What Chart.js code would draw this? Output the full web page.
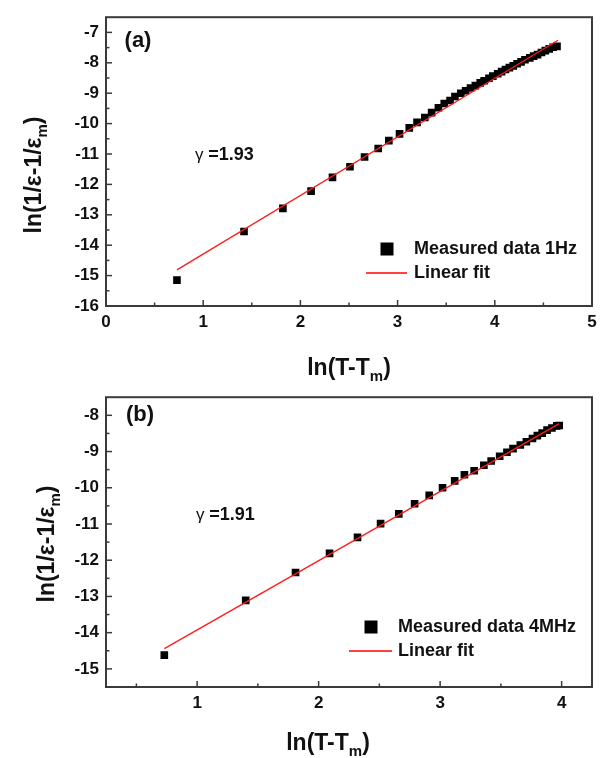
<!DOCTYPE html>
<html>
<head>
<meta charset="utf-8">
<script src="https://cdn.jsdelivr.net/npm/chart.js@4.4.0/dist/chart.umd.min.js"></script>
<style>
  body { margin: 0; background: #fff; }
  #wrap { position: relative; width: 605px; height: 758px; }
  canvas { position: absolute; left: 0; }
</style>
</head>
<body>
<div id="wrap">
  <canvas id="chartA" width="605" height="390" style="top:0px"></canvas>
  <canvas id="chartB" width="605" height="378" style="top:380px"></canvas>
</div>
<script>
// ln(T-Tm) vs ln(1/eps - 1/eps_m), 1 Hz
const lnDeltaT_1Hz = [0.73, 1.42, 1.82, 2.11, 2.33, 2.51, 2.66, 2.80, 2.91, 3.02,
  3.12, 3.20, 3.28, 3.35, 3.42, 3.48, 3.54, 3.59, 3.65, 3.70,
  3.75, 3.80, 3.85, 3.89, 3.94, 3.98, 4.03, 4.07, 4.11, 4.15,
  4.19, 4.23, 4.27, 4.31, 4.36, 4.40, 4.44, 4.48, 4.52, 4.56,
  4.60, 4.64];
const lnEps_1Hz = [-15.15, -13.55, -12.79, -12.22, -11.77, -11.42, -11.10, -10.82, -10.56, -10.34,
  -10.14, -9.96, -9.80, -9.64, -9.48, -9.34, -9.24, -9.11, -9.00, -8.92,
  -8.83, -8.75, -8.66, -8.59, -8.51, -8.44, -8.36, -8.29, -8.22, -8.16,
  -8.10, -8.03, -7.97, -7.90, -7.84, -7.78, -7.73, -7.66, -7.60, -7.54,
  -7.49, -7.46];
// linear fit end points, slope 1.93
const fitX_1Hz = [0.73, 4.65];
const fitY_1Hz = [-14.81, -7.26];

// same at 4 MHz
const lnDeltaT_4MHz = [0.73, 1.40, 1.81, 2.09, 2.32, 2.51, 2.66, 2.79, 2.91, 3.02,
  3.12, 3.20, 3.28, 3.36, 3.42, 3.49, 3.55, 3.60, 3.66, 3.71,
  3.76, 3.80, 3.84, 3.88, 3.92, 3.96, 3.98];
const lnEps_4MHz = [-14.62, -13.11, -12.34, -11.81, -11.37, -10.99, -10.72, -10.44, -10.21, -10.00,
  -9.81, -9.64, -9.53, -9.38, -9.26, -9.13, -9.02, -8.92, -8.82, -8.73,
  -8.64, -8.56, -8.49, -8.41, -8.35, -8.29, -8.28];
// linear fit end points, slope 1.91
const fitX_4MHz = [0.73, 3.98];
const fitY_4MHz = [-14.44, -8.23];

// labelled (major) ticks
const xTicks_1Hz = [0, 1, 2, 3, 4, 5];
const yTicks_1Hz = [-16, -15, -14, -13, -12, -11, -10, -9, -8, -7];
const xTicks_4MHz = [1, 2, 3, 4];
const yTicks_4MHz = [-15, -14, -13, -12, -11, -10, -9, -8];

const FONT = "'Liberation Sans', Arial, Helvetica, sans-serif";
Chart.defaults.font.family = FONT;
Chart.defaults.color = '#111';

const toPoints = (xs, ys) => xs.map((x, i) => ({ x: x, y: ys[i] }));

// majors plus the half-way minor ticks that fall inside the axis range
function withMinors(majors, min, max) {
  const vals = new Set(majors);
  majors.forEach(v => { vals.add(v - 0.5); vals.add(v + 0.5); });
  return [...vals].filter(v => v >= min && v <= max).sort((a, b) => a - b).map(v => ({ value: v }));
}

// draw a run of text pieces (used for subscripts)
function drawParts(ctx, parts, x, y, align) {
  let total = 0;
  parts.forEach(p => {
    ctx.font = `${p.weight || 'bold'} ${p.size}px ${FONT}`;
    p.w = ctx.measureText(p.text).width;
    total += p.w;
  });
  let cx = align === 'center' ? x - total / 2 : x;
  parts.forEach(p => {
    ctx.font = `${p.weight || 'bold'} ${p.size}px ${FONT}`;
    ctx.fillText(p.text, cx, y + (p.dy || 0));
    cx += p.w;
  });
}

// box around the plot plus inward ticks
const framePlugin = {
  id: 'frame',
  beforeDatasetsDraw(chart) {
    const { ctx, chartArea: a } = chart;
    const xs = chart.scales.x, ys = chart.scales.y;
    ctx.save();
    ctx.strokeStyle = '#3a3a3a';
    ctx.lineWidth = 1.5;
    xs.ticks.forEach(t => {
      const px = xs.getPixelForValue(t.value);
      if (px <= a.left + 1 || px >= a.right - 1) return;
      const len = Number.isInteger(t.value) ? 6 : 3.5;
      ctx.beginPath();
      ctx.moveTo(px, a.bottom);
      ctx.lineTo(px, a.bottom - len);
      ctx.stroke();
    });
    ys.ticks.forEach(t => {
      const py = ys.getPixelForValue(t.value);
      if (py <= a.top + 1 || py >= a.bottom - 1) return;
      const len = Number.isInteger(t.value) ? 6 : 3.5;
      ctx.beginPath();
      ctx.moveTo(a.left, py);
      ctx.lineTo(a.left + len, py);
      ctx.stroke();
    });
    ctx.lineWidth = 2;
    ctx.strokeRect(a.left, a.top, a.right - a.left, a.bottom - a.top);
    ctx.restore();
  }
};

// axis titles, panel letter, exponent note and legend
const decorPlugin = {
  id: 'decor',
  afterDraw(chart, args, o) {
    const ctx = chart.ctx;
    ctx.save();
    ctx.fillStyle = '#111';
    ctx.textBaseline = 'alphabetic';

    drawParts(ctx, [
      { text: 'ln(T-T', size: 23 },
      { text: 'm', size: 15, dy: 6 },
      { text: ')', size: 23 }
    ], o.xTitle.x, o.xTitle.y, 'center');

    ctx.save();
    ctx.translate(o.yTitle.x, o.yTitle.y);
    ctx.rotate(-Math.PI / 2);
    drawParts(ctx, [
      { text: 'ln(1/\u03b5-1/\u03b5', size: 23 },
      { text: 'm', size: 15, dy: 6 },
      { text: ')', size: 23 }
    ], 0, 8, 'center');
    ctx.restore();

    ctx.textBaseline = 'middle';
    ctx.textAlign = 'center';
    ctx.font = `bold 22px ${FONT}`;
    ctx.fillText(o.panel.text, o.panel.x, o.panel.y);
    ctx.textAlign = 'left';

    drawParts(ctx, [
      { text: '\u03b3 ', size: 17, weight: 'normal' },
      { text: '=' + o.gamma.text, size: 18 }
    ], o.gamma.x, o.gamma.y, 'left');

    const L = o.legend;
    ctx.fillStyle = '#000';
    ctx.fillRect(L.boxX - 6.5, L.y - 6.5, 13, 13);
    ctx.strokeStyle = '#ff0000';
    ctx.lineWidth = 1.5;
    ctx.beginPath();
    ctx.moveTo(L.lineX0, L.y + L.gap);
    ctx.lineTo(L.lineX1, L.y + L.gap);
    ctx.stroke();
    ctx.fillStyle = '#111';
    ctx.font = `bold 18px ${FONT}`;
    ctx.fillText(L.label, L.textX, L.y);
    ctx.fillText('Linear fit', L.textX, L.y + L.gap);
    ctx.restore();
  }
};

function makeChart(id, pts, fit, axes, pad, xHeight, decor) {
  return new Chart(document.getElementById(id), {
    type: 'scatter',
    data: {
      datasets: [
        {
          label: 'Linear fit',
          data: fit,
          showLine: true,
          borderColor: '#ff1a1a',
          borderWidth: 1.3,
          pointRadius: 0,
          fill: false
        },
        {
          label: decor.legend.label,
          data: pts,
          pointStyle: 'rect',
          pointRadius: 5.4,
          backgroundColor: '#000',
          borderWidth: 0
        }
      ]
    },
    options: {
      responsive: false,
      animation: false,
      events: [],
      layout: { padding: pad },
      scales: {
        x: {
          type: 'linear',
          min: axes.xMin, max: axes.xMax,
          grid: { display: false, drawTicks: false },
          border: { display: false },
          afterBuildTicks: s => { s.ticks = withMinors(axes.xTicks, axes.xMin, axes.xMax); },
          afterFit: s => { s.height = xHeight; },
          ticks: {
            autoSkip: false,
            maxRotation: 0,
            padding: 6,
            font: { size: 17, weight: 'bold' },
            callback: v => Number.isInteger(v) ? String(v) : ''
          }
        },
        y: {
          type: 'linear',
          min: axes.yMin, max: axes.yMax,
          grid: { display: false, drawTicks: false },
          border: { display: false },
          afterBuildTicks: s => { s.ticks = withMinors(axes.yTicks, axes.yMin, axes.yMax); },
          afterFit: s => { s.width = 106; },
          ticks: {
            autoSkip: false,
            padding: 7,
            font: { size: 17, weight: 'bold' },
            callback: v => Number.isInteger(v) ? String(v) : ''
          }
        }
      },
      plugins: {
        legend: { display: false },
        tooltip: { enabled: false },
        decor: decor
      }
    },
    plugins: [framePlugin, decorPlugin]
  });
}

makeChart('chartA',
  toPoints(lnDeltaT_1Hz, lnEps_1Hz),
  toPoints(fitX_1Hz, fitY_1Hz),
  { xMin: 0, xMax: 5, yMin: -16, yMax: -6.5, xTicks: xTicks_1Hz, yTicks: yTicks_1Hz },
  { top: 9, right: 13, left: 0, bottom: 0 },
  84,
  {
    xTitle: { x: 349, y: 375 },
    yTitle: { x: 33, y: 175 },
    panel: { text: '(a)', x: 138, y: 41 },
    gamma: { text: '1.93', x: 195, y: 155 },
    legend: { label: 'Measured data 1Hz', boxX: 387, y: 249, gap: 24, lineX0: 366, lineX1: 407, textX: 414 }
  });

makeChart('chartB',
  toPoints(lnDeltaT_4MHz, lnEps_4MHz),
  toPoints(fitX_4MHz, fitY_4MHz),
  { xMin: 0.25, xMax: 4.25, yMin: -15.5, yMax: -7.5, xTicks: xTicks_4MHz, yTicks: yTicks_4MHz },
  { top: 11, right: 13, left: 0, bottom: 0 },
  71,
  {
    xTitle: { x: 328, y: 370 },
    yTitle: { x: 46, y: 164 },
    panel: { text: '(b)', x: 140, y: 35 },
    gamma: { text: '1.91', x: 196, y: 135 },
    legend: { label: 'Measured data 4MHz', boxX: 371, y: 247, gap: 24, lineX0: 349, lineX1: 392, textX: 398 }
  });
</script>
</body>
</html>
